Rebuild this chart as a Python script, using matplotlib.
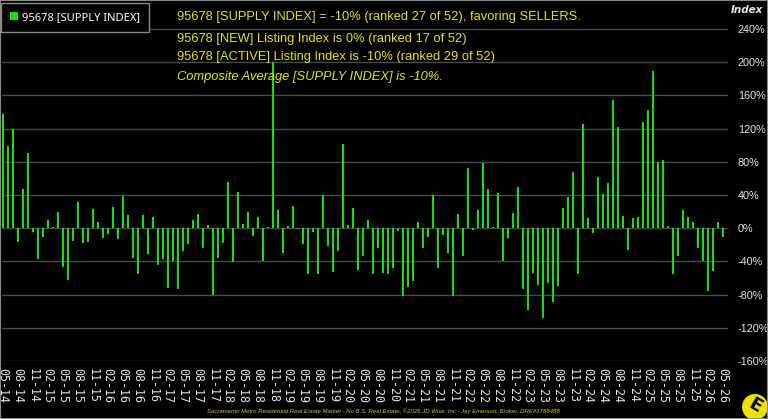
import matplotlib
matplotlib.use("Agg")
import matplotlib.pyplot as plt
from matplotlib.patches import Rectangle, Circle
import numpy as np

# ---- data ----
supply_index = [
    137, 99, 119, -17, 47, 91, -4, -37, -10, 10,
    2, 19, -47, -62, -15, 32, -18, -17, 23, 8,
    -12, -7, 25, -13, 39, 16, -36, -55, 16, -31,
    14, -44, -37, -72, -40, -73, -28, -19, 10, 17,
    -24, 4, -81, -36, -18, 56, -41, 44, 5, 19,
    -9, 14, -40, 2, 200, 22, -30, 3, 27, -1,
    -19, -55, -4, -55, 40, -22, -53, -28, 102, 4,
    24, -50, -33, 10, -55, -24, -54, -55, -48, -3,
    -82, -71, -64, 7, -24, -10, 40, -48, -8, -30,
    -82, 17, -34, 73, -2, 22, 78, 47, 1, 42,
    -40, -12, 18, 50, -73, -99, -54, -68, -108, -66,
    -89, -70, 24, 38, 68, -55, 125, 12, -6, 62,
    41, 55, 155, 122, 15, -26, 12, 14, 128, 143,
    189, 80, 82, 3, -55, -34, 22, 14, 8, -24,
    -40, -76, -51, 7, -10,
]
start_year, start_month = 2014, 5
months = []
for i in range(len(supply_index)):
    m = (start_month - 1 + i) % 12 + 1
    y = start_year + (start_month - 1 + i) // 12
    months.append(f"{m:02d}-{y % 100:02d}")
tick_idx = list(range(0, len(supply_index), 3))
tick_labels = [months[i] for i in tick_idx]
y_ticks = [-160, -120, -80, -40, 0, 40, 80, 120, 160, 200, 240]

title_lines = [
    "95678 [SUPPLY INDEX] = -10% (ranked 27 of 52), favoring SELLERS.",
    "95678 [NEW] Listing Index is 0% (ranked 17 of 52)",
    "95678 [ACTIVE] Listing Index is -10% (ranked 29 of 52)",
    "Composite Average [SUPPLY INDEX] is -10%.",
]
legend_label = "95678 [SUPPLY INDEX]"
footer = ("Sacramento Metro Residential Real Estate Market - No B.S. Real Estate, "
          "\u00a92026 JD Wise, Inc - Jay Emerson, Broker, DRE#1788488")

# ---- figure ----
W, H = 768, 419
fig = plt.figure(figsize=(W / 100, H / 100), dpi=100, facecolor="black")

def px(x, y):
    return x / W, 1 - y / H

ax_left, ax_right, ax_top, ax_bot = 2, 728, 2, 361
ax = fig.add_axes([ax_left / W, 1 - ax_bot / H, (ax_right - ax_left) / W, (ax_bot - ax_top) / H])
ax.set_facecolor("black")

x = np.arange(len(supply_index))
bars = ax.bar(x, supply_index, width=0.42, color="#11e011", edgecolor="none",
              label=legend_label, zorder=3)

ppu = 33.2 / 40.0  # pixels per percent
ymin = -160
ymax = -160 + (ax_bot - ax_top) / ppu
ax.set_ylim(ymin, ymax)
ax.set_xlim(-0.15, -0.15 + (ax_right - ax_left) / 5.0)

ax.set_yticks(y_ticks)
ax.set_yticklabels([f"{v}%" for v in y_ticks])
ax.yaxis.tick_right()
ax.tick_params(axis="y", length=0, pad=7, labelsize=7.8, labelcolor="#e6e6e6")
for lab in ax.get_yticklabels():
    lab.set_fontfamily("Liberation Sans")
    lab.set_horizontalalignment("left")
ax.grid(axis="y", color="#4a4a4a", linewidth=1, zorder=0)
ax.grid(axis="x", visible=False)

ax.set_xticks(tick_idx)
ax.set_xticklabels(tick_labels, rotation=-90, fontfamily="DejaVu Sans Mono",
                   fontsize=8.4, color="#e6e6e6")
ax.tick_params(axis="x", length=0, pad=5)
for s in ax.spines.values():
    s.set_visible(False)

# legend
leg = ax.legend(handles=[bars], labels=[legend_label], loc="upper left",
                bbox_to_anchor=px(1, 3), bbox_transform=fig.transFigure,
                frameon=True, fancybox=False, edgecolor="#8a8a8a", facecolor="black",
                framealpha=1, fontsize=8, handlelength=0.7, handleheight=0.7,
                handletextpad=0.4, borderpad=0.8, borderaxespad=0)
for t in leg.get_texts():
    t.set_color("white")
    t.set_fontfamily("Noto Sans")
leg.get_frame().set_linewidth(1)

# titles
yel = "#e6e600"
baselines = [20, 42, 60, 80]
for i, (line, b) in enumerate(zip(title_lines, baselines)):
    fig.text(*px(177, b), line, color=yel, fontsize=9.3, family="Liberation Sans",
             style="italic" if i == 3 else "normal", va="baseline", ha="left")

fig.text(*px(747, 10), "Index", color="#e6e6e6", fontsize=7.5, fontweight="bold",
         style="italic", ha="center", va="center", family="DejaVu Sans")

fig.text(*px(383, 411), footer, color="#d0d000", fontsize=4.3, style="italic",
         ha="center", va="center", family="Liberation Sans")

# logo
circ = Circle((755 / 100, (H - 407) / 100), radius=0.13,
              transform=fig.dpi_scale_trans, facecolor="#f0e000", edgecolor="none")
fig.patches.append(circ)
fig.text(*px(755, 406), "E", color="black", fontsize=13, fontweight="bold",
         rotation=-30, ha="center", va="center", family="DejaVu Sans")

# figure border
fig.patches.append(Rectangle((0, 0), 1, 1, transform=fig.transFigure, fill=False,
                             edgecolor="#8a8a8a", linewidth=1.5))

fig.savefig("out.png", dpi=100, facecolor="black")
